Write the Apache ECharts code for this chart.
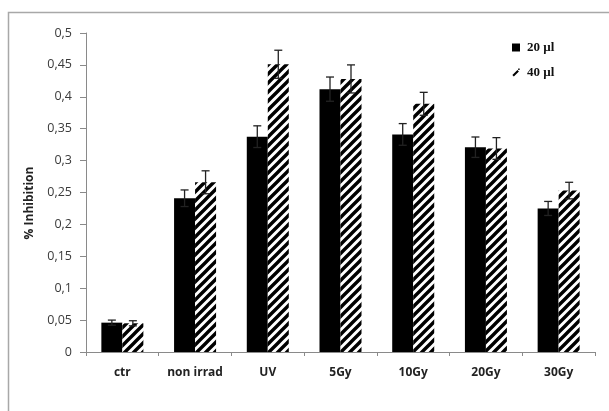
<!DOCTYPE html>
<html>
<head>
<meta charset="utf-8">
<script src="https://cdn.jsdelivr.net/npm/echarts@6/dist/echarts.min.js"></script>
<style>
  html, body { margin: 0; padding: 0; background: #fff; }
  #chart { width: 609px; height: 411px; }
</style>
</head>
<body>
<div id="chart"></div>
<script>
// Inhibition by treatment group, two sample volumes
const categories = ['ctr', 'non irrad', 'UV', '5Gy', '10Gy', '20Gy', '30Gy'];
const vol20 = [0.046, 0.241, 0.3375, 0.412, 0.341, 0.321, 0.225];
const vol20Err = [0.004, 0.013, 0.017, 0.019, 0.017, 0.016, 0.011];
const vol40 = [0.045, 0.266, 0.451, 0.428, 0.389, 0.319, 0.253];
const vol40Err = [0.004, 0.018, 0.022, 0.022, 0.018, 0.017, 0.013];
const yTicks = [0, 0.05, 0.1, 0.15, 0.2, 0.25, 0.3, 0.35, 0.4, 0.45, 0.5];

const BAR_W = 21;

// diagonal "/" hatch tile for the 40 µl bars
function hatchTile() {
  const s = 9;
  const c = document.createElement('canvas');
  c.width = s; c.height = s;
  const g = c.getContext('2d');
  g.fillStyle = '#fff';
  g.fillRect(0, 0, s, s);
  g.strokeStyle = '#000';
  g.lineWidth = 3.4;
  g.beginPath();
  g.moveTo(-2, 2); g.lineTo(2, -2);
  g.moveTo(0, s); g.lineTo(s, 0);
  g.moveTo(s - 2, s + 2); g.lineTo(s + 2, s - 2);
  g.stroke();
  return c;
}

function errorSeries(values, errs, offset) {
  return {
    type: 'custom',
    silent: true,
    z: 10,
    data: values.map((v, i) => [i, v, errs[i]]),
    renderItem: function (params, api) {
      const i = api.value(0), v = api.value(1), e = api.value(2);
      const hi = api.coord([i, v + e]);
      const lo = api.coord([i, v - e]);
      const x = hi[0] + offset;
      const cap = 4;
      const st = { stroke: '#222', lineWidth: 1.3 };
      return {
        type: 'group',
        children: [
          { type: 'line', shape: { x1: x, y1: hi[1], x2: x, y2: lo[1] }, style: st },
          { type: 'line', shape: { x1: x - cap, y1: hi[1], x2: x + cap, y2: hi[1] }, style: st },
          { type: 'line', shape: { x1: x - cap, y1: lo[1], x2: x + cap, y2: lo[1] }, style: st }
        ]
      };
    }
  };
}

const chart = echarts.init(document.getElementById('chart'), null, { renderer: 'canvas' });

const option = {
  animation: false,
  backgroundColor: '#fff',
  grid: { left: 86, right: 14, top: 33, bottom: 59, containLabel: false },
  legend: {
    orient: 'vertical',
    left: 507,
    top: 36,
    itemWidth: 8,
    itemHeight: 8,
    itemGap: 12,
    selectedMode: false,
    textStyle: { fontFamily: 'Liberation Serif', fontWeight: 'bold', fontSize: 13, color: '#111', padding: [0, 0, 0, 2] },
    data: [
      { name: '20 µl', icon: 'rect', itemStyle: { color: '#000' } },
      { name: '40 µl', icon: 'path://M0,9L7,2L9,4L2,11Z M8,0L10,0L10,2L8,2Z', itemStyle: { color: '#000' } }
    ]
  },
  xAxis: {
    type: 'category',
    data: categories,
    axisLine: { lineStyle: { color: '#8a8a8a', width: 1 } },
    axisTick: { show: true, length: 4, lineStyle: { color: '#8a8a8a' } },
    axisLabel: {
      fontFamily: 'Open Sans', fontWeight: 'bold', fontSize: 12, color: '#222', margin: 15
    }
  },
  yAxis: {
    type: 'value',
    min: 0,
    max: 0.5,
    interval: 0.05,
    splitLine: { show: false },
    axisLine: { show: true, lineStyle: { color: '#8a8a8a', width: 1 } },
    axisTick: { show: true, length: 6, lineStyle: { color: '#8a8a8a' } },
    axisLabel: {
      fontFamily: 'Open Sans', fontSize: 12.5, color: '#3a3a3a', margin: 14,
      formatter: function (v) {
        const t = yTicks.find(k => Math.abs(k - v) < 1e-9);
        return String(t !== undefined ? t : +v.toFixed(2)).replace('.', ',');
      }
    }
  },
  series: [
    {
      name: '20 µl',
      type: 'bar',
      data: vol20,
      barWidth: BAR_W,
      barGap: '0%',
      itemStyle: { color: '#000' }
    },
    {
      name: '40 µl',
      type: 'bar',
      data: vol40,
      barWidth: BAR_W,
      barGap: '0%',
      itemStyle: { color: { image: hatchTile(), repeat: 'repeat' } }
    },
    errorSeries(vol20, vol20Err, -BAR_W / 2),
    errorSeries(vol40, vol40Err, BAR_W / 2)
  ],
  graphic: [
    {
      type: 'polyline',
      shape: { points: [[8.5, 411], [8.5, 12.5], [609, 12.5]] },
      style: { stroke: '#a8a8a8', lineWidth: 1.5, fill: null },
      silent: true
    },
    {
      type: 'text',
      x: 30,
      y: 203,
      rotation: Math.PI / 2,
      style: {
        text: '% Inhibition',
        font: 'bold 12px "Open Sans"',
        fill: '#222',
        textAlign: 'center',
        textVerticalAlign: 'middle'
      }
    }
  ]
};

chart.setOption(option);
</script>
</body>
</html>
